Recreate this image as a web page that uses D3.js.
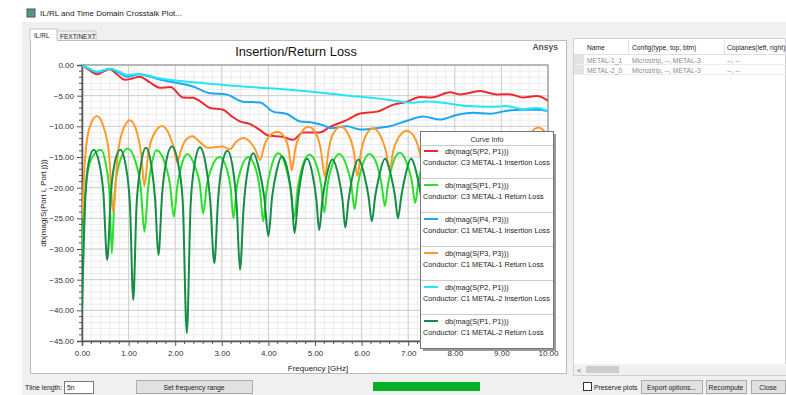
<!DOCTYPE html>
<html>
<head>
<meta charset="utf-8">
<script src="https://cdnjs.cloudflare.com/ajax/libs/d3/7.8.5/d3.min.js"></script>
<style>
  body { margin: 0; background: #fff; }
  svg { display: block; font-family: "Liberation Sans", Arial, sans-serif; }
</style>
</head>
<body>
<svg id="win" width="786" height="395"></svg>
<script>
// ---- data: [frequency GHz, dB] ----
var xTicks = [0, 1, 2, 3, 4, 5, 6, 7, 8, 9, 10];
var yTicks = [0, -5, -10, -15, -20, -25, -30, -35, -40, -45];

var s21_c3m1 = [[0,0],[0.15,-0.8],[0.32,-1.5],[0.45,-1.1],[0.6,-0.7],[0.75,-1.5],[0.92,-2.4],[1.08,-2.2],[1.24,-1.9],
  [1.45,-2.8],[1.67,-3.7],[1.9,-3.6],[2.17,-5.3],[2.38,-5.35],[2.55,-6.0],[2.75,-7.0],[3.03,-7.3],[3.2,-8.3],[3.39,-9.2],
  [3.6,-9.6],[3.8,-10.5],[4.0,-11.5],[4.3,-11.7],[4.53,-12.2],[4.74,-11.0],[5.1,-11.0],[5.32,-10.1],[5.68,-9.0],[5.97,-7.9],
  [6.33,-7.6],[6.67,-6.5],[6.97,-6.0],[7.25,-5.2],[7.5,-5.3],[7.9,-4.45],[8.11,-4.8],[8.54,-4.25],[8.9,-4.8],[9.18,-4.75],
  [9.46,-5.3],[9.76,-5.05],[10,-5.8]];

var s11_c3m1 = [[0,-31],[0.08,-20],[0.2,-15.3],[0.4,-13.8],[0.52,-16.5],[0.59,-21],[0.64,-30.7],[0.7,-21],[0.8,-16],[0.98,-13.6],
  [1.15,-15.8],[1.26,-20],[1.34,-27.2],[1.42,-20],[1.5,-16],[1.6,-13.9],[1.77,-15.8],[1.89,-19.5],[1.97,-24.7],[2.05,-19.5],
  [2.14,-16.2],[2.26,-14.5],[2.42,-16.5],[2.53,-19.5],[2.6,-24.2],[2.68,-19.5],[2.78,-16.8],[2.95,-15.0],[3.11,-17],[3.19,-20],
  [3.25,-25],[3.32,-20],[3.41,-17],[3.57,-15.0],[3.73,-17],[3.82,-20.5],[3.89,-25.5],[3.96,-20.5],[4.05,-17],[4.21,-14.4],
  [4.37,-16.5],[4.47,-20],[4.55,-25],[4.63,-20],[4.72,-16.8],[4.88,-14.6],[5.04,-16.5],[5.13,-19.5],[5.2,-24],[5.27,-19.5],
  [5.36,-16.5],[5.52,-14.5],[5.68,-16.5],[5.78,-19.5],[5.85,-23.5],[5.92,-19.5],[6.01,-16.5],[6.17,-14.5],[6.33,-16.3],
  [6.43,-19.5],[6.5,-23],[6.57,-19.3],[6.66,-16.3],[6.82,-14.3],[6.98,-16.2],[7.08,-19],[7.15,-22.5],[7.22,-19],[7.31,-16.2],
  [7.47,-14.3],[7.63,-16.2],[7.73,-19],[7.8,-22.5],[7.87,-19],[7.96,-16.2],[8.12,-14.3],[8.28,-16.2],[8.38,-19],[8.45,-22],
  [8.52,-19],[8.61,-16],[8.77,-14.2],[8.93,-16],[9.03,-19],[9.1,-22],[9.17,-19],[9.26,-16],[9.42,-14.2],[9.58,-16],[9.68,-19],
  [9.75,-22],[9.82,-19],[9.91,-16],[10,-14.8]];

var s43_c1m1 = [[0,0],[0.15,-0.6],[0.32,-1.2],[0.6,-0.6],[0.8,-1.3],[0.96,-1.9],[1.24,-1.5],[1.45,-1.9],[1.67,-2.35],[2.1,-3.0],
  [2.38,-3.5],[2.75,-4.6],[3.1,-4.8],[3.46,-6.0],[3.82,-6.1],[4.1,-7.6],[4.4,-8.0],[4.68,-9.2],[4.96,-9.4],[5.17,-9.8],
  [5.32,-10.3],[5.68,-10.0],[5.97,-10.5],[6.33,-10.3],[6.6,-10.0],[6.97,-9.1],[7.32,-8.4],[7.68,-8.9],[8.04,-8.15],[8.4,-7.8],
  [8.75,-7.95],[9.12,-7.45],[9.46,-7.3],[9.76,-7.3],[10,-7.5]];

var s33_c1m1 = [[0,-25],[0.06,-16],[0.15,-10.5],[0.32,-8.3],[0.48,-10.5],[0.58,-14.5],[0.67,-23.9],[0.76,-15],[0.86,-11],[1.03,-9.0],
  [1.18,-11],[1.27,-14.5],[1.34,-19.7],[1.42,-14.5],[1.53,-11.5],[1.72,-9.95],[1.88,-11.5],[1.97,-13.5],[2.04,-15.8],[2.12,-14],
  [2.22,-12.3],[2.37,-11.6],[2.52,-12.5],[2.7,-13.5],[3.0,-13.3],[3.18,-13.7],[3.3,-12.6],[3.46,-11.9],[3.6,-12.5],[3.72,-13.8],
  [3.82,-15.5],[3.92,-13],[4.03,-11.5],[4.2,-10.9],[4.36,-12],[4.44,-14],[4.5,-17.2],[4.57,-14],[4.67,-11.5],[4.86,-10.05],
  [5.04,-11.5],[5.13,-14],[5.21,-18.2],[5.29,-14],[5.37,-11.5],[5.55,-10.05],[5.73,-11.5],[5.83,-14],[5.91,-18.1],[5.99,-14],
  [6.08,-11.7],[6.25,-10.3],[6.42,-11.8],[6.52,-14],[6.6,-17.1],[6.68,-14],[6.78,-12],[6.97,-10.7],[7.15,-12],[7.24,-14],
  [7.3,-16],[7.38,-14],[7.48,-12.2],[7.65,-11],[7.82,-12.2],[7.92,-14],[8.0,-16],[8.08,-14],[8.18,-12.2],[8.35,-11],[8.52,-12.2],
  [8.62,-14],[8.7,-16],[8.78,-14],[8.88,-12],[9.05,-11],[9.22,-12],[9.32,-14],[9.4,-16.5],[9.48,-14],[9.6,-11.5],[9.8,-10.2],
  [10,-11.5]];

var s21_c1m2 = [[0,0],[0.15,-0.6],[0.32,-1.1],[0.6,-0.6],[0.8,-1.1],[0.96,-1.6],[1.24,-1.5],[1.67,-2.2],[2.1,-2.6],[2.68,-3.0],
  [3.24,-3.4],[3.82,-3.7],[4.4,-4.0],[5.1,-4.5],[5.5,-4.8],[5.9,-5.15],[6.3,-5.4],[6.6,-5.7],[7.1,-6.15],[7.4,-5.95],
  [7.83,-6.25],[8.25,-6.7],[8.75,-6.8],[9.12,-6.7],[9.46,-7.2],[9.76,-7.0],[10,-7.5]];

var s11_c1m2 = [[0,-40],[0.07,-22],[0.14,-16],[0.25,-13.8],[0.37,-16],[0.46,-21],[0.54,-31.8],[0.62,-21],[0.7,-16],[0.82,-13.8],
  [0.94,-16.5],[1.03,-23],[1.1,-38.3],[1.17,-23],[1.26,-16.5],[1.37,-13.5],[1.49,-16.5],[1.57,-22],[1.64,-31],[1.72,-21],
  [1.8,-16],[1.93,-13.3],[2.06,-16],[2.16,-22],[2.25,-43.7],[2.33,-23],[2.42,-16],[2.53,-13.4],[2.65,-16],[2.75,-22],
  [2.84,-32.3],[2.92,-22],[3.0,-16.5],[3.12,-14.0],[3.24,-17],[3.32,-23],[3.39,-33.4],[3.47,-23],[3.56,-17],[3.68,-14.4],
  [3.8,-17],[3.91,-21.5],[4.0,-27.9],[4.08,-21.5],[4.17,-17.5],[4.29,-14.9],[4.42,-17.5],[4.5,-21.5],[4.56,-27.4],[4.64,-21.5],
  [4.72,-17.5],[4.83,-15.3],[4.95,-18],[5.03,-22],[5.09,-26.9],[5.16,-22],[5.25,-18],[5.37,-15.4],[5.5,-18],[5.59,-22],
  [5.65,-26.5],[5.72,-22],[5.81,-18],[5.93,-15.4],[6.06,-18],[6.15,-21.5],[6.22,-25.5],[6.29,-21.5],[6.38,-18],[6.5,-15.3],
  [6.63,-18],[6.72,-21.5],[6.78,-25],[6.85,-21.5],[6.94,-18],[7.06,-15.3],[7.19,-18],[7.28,-21.5],[7.35,-24.5],[7.42,-21.5],
  [7.51,-18],[7.63,-15.2],[7.76,-18],[7.85,-21.5],[7.92,-24],[7.99,-21.5],[8.08,-18],[8.2,-15.2],[8.33,-18],[8.42,-21],
  [8.49,-23.5],[8.56,-21],[8.65,-18],[8.77,-15.2],[8.9,-18],[8.99,-21],[9.06,-23.5],[9.13,-21],[9.22,-18],[9.34,-15.2],
  [9.47,-18],[9.56,-21],[9.63,-23],[9.7,-21],[9.79,-18],[9.91,-15.2],[10,-16]];

var curveNames = ["db(mag(S(P2, P1)))", "db(mag(S(P1, P1)))", "db(mag(S(P4, P3)))",
                  "db(mag(S(P3, P3)))", "db(mag(S(P2, P1)))", "db(mag(S(P1, P1)))"];
var curveDesc = ["Conductor: C3 METAL-1 Insertion Loss", "Conductor: C3 METAL-1 Return Loss",
                 "Conductor: C1 METAL-1 Insertion Loss", "Conductor: C1 METAL-1 Return Loss",
                 "Conductor: C1 METAL-2 Insertion Loss", "Conductor: C1 METAL-2 Return Loss"];
var curveColors = ["#ee2a30", "#2ae02a", "#1ea6f0", "#ff9a2c", "#22e6f8", "#168c48"];
var allSeries = [s21_c3m1, s11_c3m1, s43_c1m1, s33_c1m1, s21_c1m2, s11_c1m2];

var tableHead = ["Name", "Config(type, top, btm)", "Coplanes(left, right)"];
var tableRows = [["METAL-1_1", "Microstrip, --, METAL-3", "--, --"],
                 ["METAL-2_0", "Microstrip, --, METAL-3", "--, --"]];

var svg = d3.select("#win");

// ---- window chrome ----
svg.append("rect").attr("x", 22).attr("y", 22).attr("width", 764).attr("height", 373).attr("fill", "#f0f0f0");
svg.append("rect").attr("x", 27).attr("y", 9).attr("width", 8).attr("height", 8).attr("fill", "#6c8a9c").attr("stroke", "#3f5a6a");
svg.append("rect").attr("x", 29).attr("y", 11).attr("width", 3).attr("height", 4).attr("fill", "#2bb34a");
svg.append("text").attr("x", 40).attr("y", 16).attr("font-size", 8).attr("fill", "#222")
  .text("IL/RL and Time Domain Crosstalk Plot...");

// tabs
svg.append("rect").attr("x", 57).attr("y", 31).attr("width", 39).attr("height", 10).attr("fill", "#f0f0f0").attr("stroke", "#c8c8c8");
svg.append("text").attr("x", 60).attr("y", 38.5).attr("font-size", 6.5).attr("fill", "#222").text("FEXT/NEXT");
svg.append("rect").attr("x", 30).attr("y", 29).attr("width", 27).attr("height", 12).attr("fill", "#fff").attr("stroke", "#c8c8c8");
svg.append("text").attr("x", 34).attr("y", 37.5).attr("font-size", 6.5).attr("fill", "#222").text("IL/RL");

// chart panel
svg.append("rect").attr("x", 30.5).attr("y", 40.5).attr("width", 536).attr("height", 333).attr("fill", "#fff").attr("stroke", "#bdbdbd");
svg.append("line").attr("x1", 31).attr("x2", 57).attr("y1", 40.5).attr("y2", 40.5).attr("stroke", "#fff").attr("stroke-width", 1.5);

// ---- chart ----
var x = d3.scaleLinear().domain([0, 10]).range([82, 548]);
var y = d3.scaleLinear().domain([0, -45]).range([65, 341]);

var grid = svg.append("g");
grid.selectAll("line.vminor").data(d3.range(0, 10.001, 0.2)).enter().append("line")
  .attr("x1", function (d) { return x(d); }).attr("x2", function (d) { return x(d); })
  .attr("y1", y(0)).attr("y2", y(-45)).attr("stroke", "#ececec").attr("stroke-width", 1);
grid.selectAll("line.hminor").data(d3.range(0, -45.001, -1)).enter().append("line")
  .attr("y1", function (d) { return y(d); }).attr("y2", function (d) { return y(d); })
  .attr("x1", x(0)).attr("x2", x(10)).attr("stroke", "#ececec").attr("stroke-width", 1);
grid.selectAll("line.vmajor").data(xTicks).enter().append("line")
  .attr("x1", function (d) { return x(d); }).attr("x2", function (d) { return x(d); })
  .attr("y1", y(0)).attr("y2", y(-45)).attr("stroke", "#cfcfcf").attr("stroke-width", 1);
grid.selectAll("line.hmajor").data(yTicks).enter().append("line")
  .attr("y1", function (d) { return y(d); }).attr("y2", function (d) { return y(d); })
  .attr("x1", x(0)).attr("x2", x(10)).attr("stroke", "#cfcfcf").attr("stroke-width", 1);

// plot frame
svg.append("rect").attr("x", x(0)).attr("y", y(0)).attr("width", x(10) - x(0)).attr("height", y(-45) - y(0))
  .attr("fill", "none").attr("stroke", "#a8a8a8").attr("stroke-width", 1.5);

// axes
var yAxis = d3.axisLeft(y).tickValues(yTicks).tickFormat(d3.format(".2f")).tickSize(5).tickPadding(3);
var gy = svg.append("g").attr("transform", "translate(" + x(0) + ",0)").call(yAxis);
var xAxis = d3.axisBottom(x).tickValues(xTicks).tickFormat(d3.format(".2f")).tickSize(5).tickPadding(4);
var gx = svg.append("g").attr("transform", "translate(0," + y(-45) + ")").call(xAxis);
[gx, gy].forEach(function (g) {
  g.select(".domain").attr("stroke", "#555").attr("stroke-width", 1.5);
  g.selectAll(".tick line").attr("stroke", "#555");
  g.selectAll("text").attr("font-size", 8).attr("fill", "#333").attr("font-family", "Liberation Sans, Arial, sans-serif");
});
var minorY = d3.range(0, -45.001, -1).filter(function (d) { return d % 5 !== 0; });
svg.append("g").selectAll("line").data(minorY).enter().append("line")
  .attr("x1", x(0) - 3).attr("x2", x(0)).attr("y1", function (d) { return y(d); }).attr("y2", function (d) { return y(d); })
  .attr("stroke", "#555");
var minorX = d3.range(0, 10.001, 0.2).filter(function (d) { return Math.abs(d - Math.round(d)) > 0.01; });
svg.append("g").selectAll("line").data(minorX).enter().append("line")
  .attr("y1", y(-45)).attr("y2", y(-45) + 3).attr("x1", function (d) { return x(d); }).attr("x2", function (d) { return x(d); })
  .attr("stroke", "#555");

svg.append("text").attr("x", 296).attr("y", 56).attr("text-anchor", "middle").attr("font-size", 12.8).attr("fill", "#111")
  .text("Insertion/Return Loss");
svg.append("text").attr("x", 558).attr("y", 50).attr("text-anchor", "end").attr("font-size", 8.5).attr("font-weight", "bold")
  .attr("fill", "#555").text("Ansys");
svg.append("text").attr("x", 318).attr("y", 371).attr("text-anchor", "middle").attr("font-size", 8).attr("fill", "#222")
  .text("Frequency [GHz]");
svg.append("text").attr("transform", "translate(46,203) rotate(-90)").attr("text-anchor", "middle").attr("font-size", 8)
  .attr("fill", "#222").text("db(mag(S(Port i, Port j)))");

// curves
svg.append("clipPath").attr("id", "plotclip").append("rect")
  .attr("x", x(0)).attr("y", y(0) - 1).attr("width", x(10) - x(0)).attr("height", y(-45) - y(0) + 2);
var line = d3.line().x(function (d) { return x(d[0]); }).y(function (d) { return y(d[1]); }).curve(d3.curveMonotoneX);
var curves = svg.append("g").attr("clip-path", "url(#plotclip)");
allSeries.forEach(function (s, i) {
  curves.append("path").attr("d", line(s)).attr("fill", "none").attr("stroke", curveColors[i])
    .attr("stroke-width", 2).attr("stroke-linejoin", "round");
});

// legend "Curve Info"
var lg = svg.append("g").attr("transform", "translate(420,131)");
lg.append("rect").attr("x", 3).attr("y", 3).attr("width", 133).attr("height", 217).attr("fill", "#9a9a9a");
lg.append("rect").attr("x", 0.5).attr("y", 0.5).attr("width", 133).attr("height", 217).attr("fill", "#fff").attr("stroke", "#777");
lg.append("text").attr("x", 67).attr("y", 11).attr("text-anchor", "middle").attr("font-size", 7.2).attr("fill", "#333").text("Curve Info");
lg.append("line").attr("x1", 1).attr("x2", 133).attr("y1", 14.5).attr("y2", 14.5).attr("stroke", "#ccc");
curveNames.forEach(function (n, i) {
  var top = 14 + i * 34;
  lg.append("line").attr("x1", 4).attr("x2", 18).attr("y1", top + 6).attr("y2", top + 6)
    .attr("stroke", curveColors[i]).attr("stroke-width", 2);
  lg.append("text").attr("x", 25).attr("y", top + 9).attr("font-size", 7.3).attr("fill", "#222").text(n);
  lg.append("text").attr("x", 3).attr("y", top + 20).attr("font-size", 7.3).attr("fill", "#222").text(curveDesc[i]);
  if (i < 5) {
    lg.append("line").attr("x1", 1).attr("x2", 133).attr("y1", top + 33.5).attr("y2", top + 33.5).attr("stroke", "#ccc");
  }
});

// ---- right table panel ----
svg.append("rect").attr("x", 573.5).attr("y", 38.5).attr("width", 212).attr("height", 337).attr("fill", "#fff").attr("stroke", "#d0d0d0");
svg.append("line").attr("x1", 574).attr("x2", 786).attr("y1", 54.5).attr("y2", 54.5).attr("stroke", "#e0e0e0");
[628.5, 724.5].forEach(function (cx) {
  svg.append("line").attr("x1", cx).attr("x2", cx).attr("y1", 40).attr("y2", 54).attr("stroke", "#e0e0e0");
});
var colX = [587, 632, 727];
tableHead.forEach(function (h, i) {
  svg.append("text").attr("x", colX[i]).attr("y", 50).attr("font-size", 6.7).attr("fill", "#222").text(h);
});
tableRows.forEach(function (r, j) {
  var ry = 55 + j * 10;
  svg.append("rect").attr("x", 574).attr("y", ry).attr("width", 10).attr("height", 9.5).attr("fill", "#e3e3e3");
  svg.append("line").attr("x1", 584).attr("x2", 786).attr("y1", ry + 9.5).attr("y2", ry + 9.5).attr("stroke", "#ececec");
  r.forEach(function (c, i) {
    svg.append("text").attr("x", colX[i]).attr("y", ry + 7.5).attr("font-size", 6.7).attr("fill", "#8a8a8a").text(c);
  });
});
// horizontal scrollbar
svg.append("rect").attr("x", 574).attr("y", 364).attr("width", 212).attr("height", 11).attr("fill", "#f0f0f0");
svg.append("rect").attr("x", 586).attr("y", 366).attr("width", 33).attr("height", 7).attr("fill", "#cdcdcd");
svg.append("text").attr("x", 577).attr("y", 372.5).attr("font-size", 8).attr("fill", "#606060").text("<");

// ---- bottom controls ----
svg.append("text").attr("x", 25).attr("y", 390).attr("font-size", 6.8).attr("fill", "#222").text("Tline length:");
svg.append("rect").attr("x", 64.5).attr("y", 381.5).attr("width", 29).attr("height", 12).attr("fill", "#fff").attr("stroke", "#7a7a7a");
svg.append("text").attr("x", 67).attr("y", 390).attr("font-size", 6.8).attr("fill", "#222").text("5n");

function button(x0, w, label) {
  svg.append("rect").attr("x", x0 + 0.5).attr("y", 380.5).attr("width", w).attr("height", 13).attr("fill", "#e1e1e1").attr("stroke", "#adadad");
  svg.append("text").attr("x", x0 + w / 2).attr("y", 390).attr("text-anchor", "middle").attr("font-size", 6.8).attr("fill", "#222").text(label);
}
button(136, 116, "Set frequency range");
button(641, 61, "Export options...");
button(706, 40, "Recompute");
button(751, 34, "Close");

svg.append("rect").attr("x", 373).attr("y", 382).attr("width", 107).attr("height", 9).attr("fill", "#06b025");
svg.append("rect").attr("x", 583.5).attr("y", 382.5).attr("width", 8).attr("height", 8).attr("fill", "#fff").attr("stroke", "#333");
svg.append("text").attr("x", 594).attr("y", 390).attr("font-size", 6.8).attr("fill", "#222").text("Preserve plots");
</script>
</body>
</html>
